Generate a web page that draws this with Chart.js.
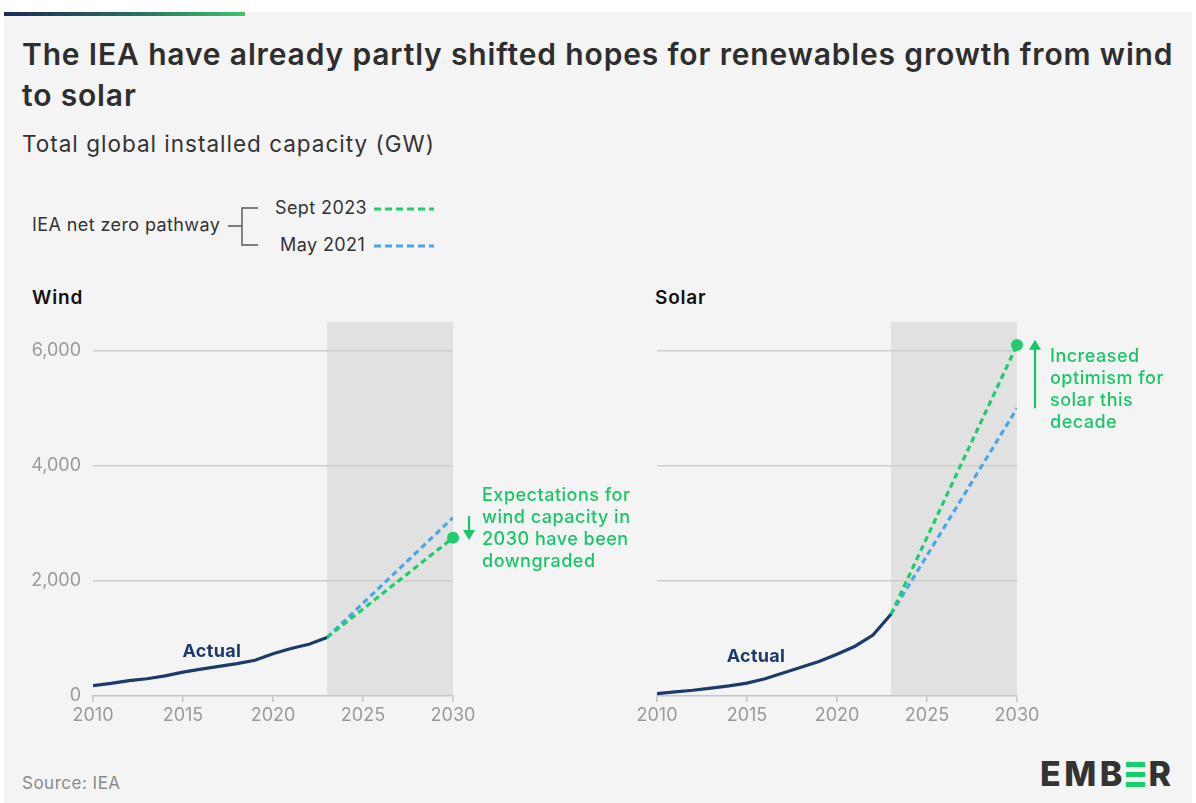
<!DOCTYPE html>
<html>
<head>
<meta charset="utf-8">
<script src="https://cdn.jsdelivr.net/npm/chart.js@4.4.1/dist/chart.umd.min.js"></script>
<style>
  body { margin: 0; background: #fff; font-family: Inter, "Noto Sans", sans-serif; color: #222; }
  #card { position: absolute; left: 4px; top: 12px; width: 1188px; height: 791px; background: #f4f4f4; }
  #bar { position: absolute; left: 4px; top: 12px; width: 241px; height: 4px; background: linear-gradient(90deg, #1c2a5a, #27705f 55%, #3ec56b); }
  .abs { position: absolute; white-space: nowrap; }
  #title { left: 22px; top: 34px; width: 1165px; white-space: normal; font-size: 30px; font-weight: 600; line-height: 41px; color: #2e2e2e; letter-spacing: 0.85px; }
  #subtitle { left: 22px; top: 130px; font-size: 22.5px; color: #333; letter-spacing: 1px; }
  .panel { top: 286px; font-size: 19px; font-weight: 600; color: #111; letter-spacing: 0.8px; }
  #source { left: 22px; top: 773px; font-size: 17px; color: #8a8a8a; letter-spacing: 0.5px; }
  #logo { left: 1040px; top: 756px; font-size: 34px; font-weight: 800; color: #333; letter-spacing: 3.5px; line-height: 36px; }
  #logo .e3 { display: inline-block; width: 19px; height: 25px; margin-right: 3.5px; vertical-align: -1px; position: relative; }
  #logo .e3 i { position: absolute; left: 0; width: 19px; height: 5px; background: #16ce6a; }
  canvas { position: absolute; }
</style>
</head>
<body>
<div id="card"></div>
<div id="bar"></div>
<div id="title" class="abs">The IEA have already partly shifted hopes for renewables growth from wind to solar</div>
<div id="subtitle" class="abs">Total global installed capacity (GW)</div>

<svg class="abs" style="left:0;top:180px" width="470" height="90" viewBox="0 180 470 90">
  <g font-family="Inter, Noto Sans, sans-serif" font-size="18" fill="#333" letter-spacing="0.4" dominant-baseline="middle">
    <text x="32" y="226">IEA net zero pathway</text>
    <text x="275" y="209">Sept 2023</text>
    <text x="280" y="246">May 2021</text>
  </g>
  <path d="M228 226 H242 M258 208 H242 V245 H258" stroke="#555" stroke-width="1.4" fill="none"/>
  <line x1="374" y1="209" x2="434" y2="209" stroke="#1fcd6c" stroke-width="3" stroke-dasharray="7,4"/>
  <line x1="374" y1="246" x2="434" y2="246" stroke="#4ba6e6" stroke-width="3" stroke-dasharray="7,4"/>
</svg>

<div class="abs panel" style="left:32px">Wind</div>
<div class="abs panel" style="left:655px">Solar</div>

<canvas id="wind" width="620" height="420" style="left:20px;top:312px"></canvas>
<canvas id="solar" width="576" height="420" style="left:620px;top:312px"></canvas>

<div id="source" class="abs">Source: IEA</div>
<div id="logo" class="abs">EMB<span class="e3"><i style="top:0"></i><i style="top:10px"></i><i style="top:20px"></i></span>R</div>

<script>
// data (GW)
var years = [2010, 2011, 2012, 2013, 2014, 2015, 2016, 2017, 2018, 2019, 2020, 2021, 2022, 2023];
var windActual = [181, 220, 267, 300, 349, 416, 467, 514, 563, 622, 733, 825, 900, 1017];
var solarActual = [40, 72, 100, 138, 177, 224, 300, 400, 500, 600, 725, 865, 1060, 1420];
var projYears = [2023, 2030];
var windSept2023 = 2750;
var windMay2021 = 3100;
var solarSept2023 = 6100;
var solarMay2021 = 5000;
var xTicks = [2010, 2015, 2020, 2025, 2030];
var yTicks = [0, 2000, 4000, 6000];
var windNote = ["Expectations for", "wind capacity in", "2030 have been", "downgraded"];
var solarNote = ["Increased", "optimism for", "solar this", "decade"];

var NAVY = "#1d3a6b", GREEN = "#1fcd6c", BLUE = "#4ba6e6", NOTE = "#17c766";
var FONT = 'Inter, "Noto Sans", sans-serif';

function pts(xs, ys) {
  return xs.map(function (x, i) { return { x: x, y: ys[i] }; });
}

var shadePlugin = {
  id: "shade",
  beforeDraw: function (c) {
    var a = c.chartArea, x = c.scales.x, ctx = c.ctx;
    var x0 = x.getPixelForValue(2023), x1 = x.getPixelForValue(2030);
    ctx.save();
    ctx.fillStyle = "#e1e1e1";
    ctx.fillRect(x0, a.top, x1 - x0, a.bottom - a.top);
    ctx.restore();
  }
};

var notePlugin = {
  id: "notes",
  afterDatasetsDraw: function (c, args, o) {
    var ctx = c.ctx, xs = c.scales.x, ys = c.scales.y;
    ctx.save();
    // "Actual" label
    ctx.font = "700 18px " + FONT;
    ctx.letterSpacing = "0.3px";
    ctx.fillStyle = NAVY;
    ctx.textAlign = "center";
    ctx.textBaseline = "middle";
    ctx.fillText("Actual", xs.getPixelForValue(o.actualAt[0]), ys.getPixelForValue(o.actualAt[1]));
    // annotation text
    var tx = xs.getPixelForValue(2030) + o.dx;
    var ty = ys.getPixelForValue(o.textY);
    ctx.font = "500 18px " + FONT;
    ctx.letterSpacing = "0.5px";
    ctx.fillStyle = NOTE;
    ctx.textAlign = "left";
    o.lines.forEach(function (l, i) { ctx.fillText(l, tx, ty + i * 22); });
    // arrow
    var ax = xs.getPixelForValue(2030) + o.ax;
    var a0 = ys.getPixelForValue(o.arrow[0]), a1 = ys.getPixelForValue(o.arrow[1]);
    var dir = a1 > a0 ? 1 : -1;
    ctx.strokeStyle = NOTE;
    ctx.lineWidth = 2.2;
    ctx.beginPath();
    ctx.moveTo(ax, a0);
    ctx.lineTo(ax, a1 - dir * 8);
    ctx.stroke();
    ctx.beginPath();
    ctx.moveTo(ax - 6, a1 - dir * 10);
    ctx.lineTo(ax + 6, a1 - dir * 10);
    ctx.lineTo(ax, a1);
    ctx.closePath();
    ctx.fillStyle = NOTE;
    ctx.fill();
    ctx.restore();
  }
};

function makeChart(id, actual, sept, may, showY, padRight, yWidth, notes) {
  var last = actual[actual.length - 1];
  return new Chart(document.getElementById(id), {
    type: "line",
    data: {
      datasets: [
        { label: "Actual", data: pts(years, actual), borderColor: NAVY, borderWidth: 3.2, pointRadius: 0, tension: 0 },
        { label: "Sept 2023", data: pts(projYears, [last, sept]), borderColor: GREEN, borderWidth: 3.2, borderDash: [6, 4],
          pointRadius: [0, 6], pointBackgroundColor: GREEN, pointBorderWidth: 0, pointHoverRadius: 0, clip: false },
        { label: "May 2021", data: pts(projYears, [last, may]), borderColor: BLUE, borderWidth: 3.2, borderDash: [6, 4], pointRadius: 0 }
      ]
    },
    options: {
      responsive: false,
      animation: false,
      layout: { padding: { top: 10, right: padRight, left: 0, bottom: 0 } },
      plugins: { legend: { display: false }, tooltip: { enabled: false }, notes: notes },
      scales: {
        x: {
          type: "linear", min: 2010, max: 2030,
          afterBuildTicks: function (s) { s.ticks = xTicks.map(function (v) { return { value: v }; }); },
          afterFit: function (s) { s.height = 36; s.paddingLeft = 0; s.paddingRight = 0; },
          grid: { drawOnChartArea: false, drawTicks: true, tickLength: 6, color: "#c6c6c6", lineWidth: 1.5 },
          border: { display: true, color: "#c6c6c6", width: 1.5 },
          ticks: { color: "#9a9a9a", font: { family: FONT, size: 18 }, padding: 3, maxRotation: 0,
                   callback: function (v) { return String(v); } }
        },
        y: {
          min: 0, max: 6500,
          afterBuildTicks: function (s) { s.ticks = yTicks.map(function (v) { return { value: v }; }); },
          afterFit: function (s) { s.width = yWidth; s.paddingTop = 0; s.paddingBottom = 0; },
          grid: { drawTicks: false, color: function (c) { return c.tick.value === 0 ? "rgba(0,0,0,0)" : "#cdcdcd"; }, lineWidth: 1.5 },
          border: { display: false },
          ticks: { display: showY, color: "#9a9a9a", font: { family: FONT, size: 18 }, padding: 12,
                   callback: function (v) { return v.toLocaleString("en-US"); } }
        }
      }
    },
    plugins: [shadePlugin, notePlugin]
  });
}

makeChart("wind", windActual, windSept2023, windMay2021, true, 187, 73,
  { actualAt: [2016.6, 780], dx: 29, textY: 3480, lines: windNote, ax: 16, arrow: [3130, 2710] });
makeChart("solar", solarActual, solarSept2023, solarMay2021, false, 179, 37,
  { actualAt: [2015.5, 680], dx: 33, textY: 5900, lines: solarNote, ax: 18, arrow: [5000, 6190] });
</script>
</body>
</html>
